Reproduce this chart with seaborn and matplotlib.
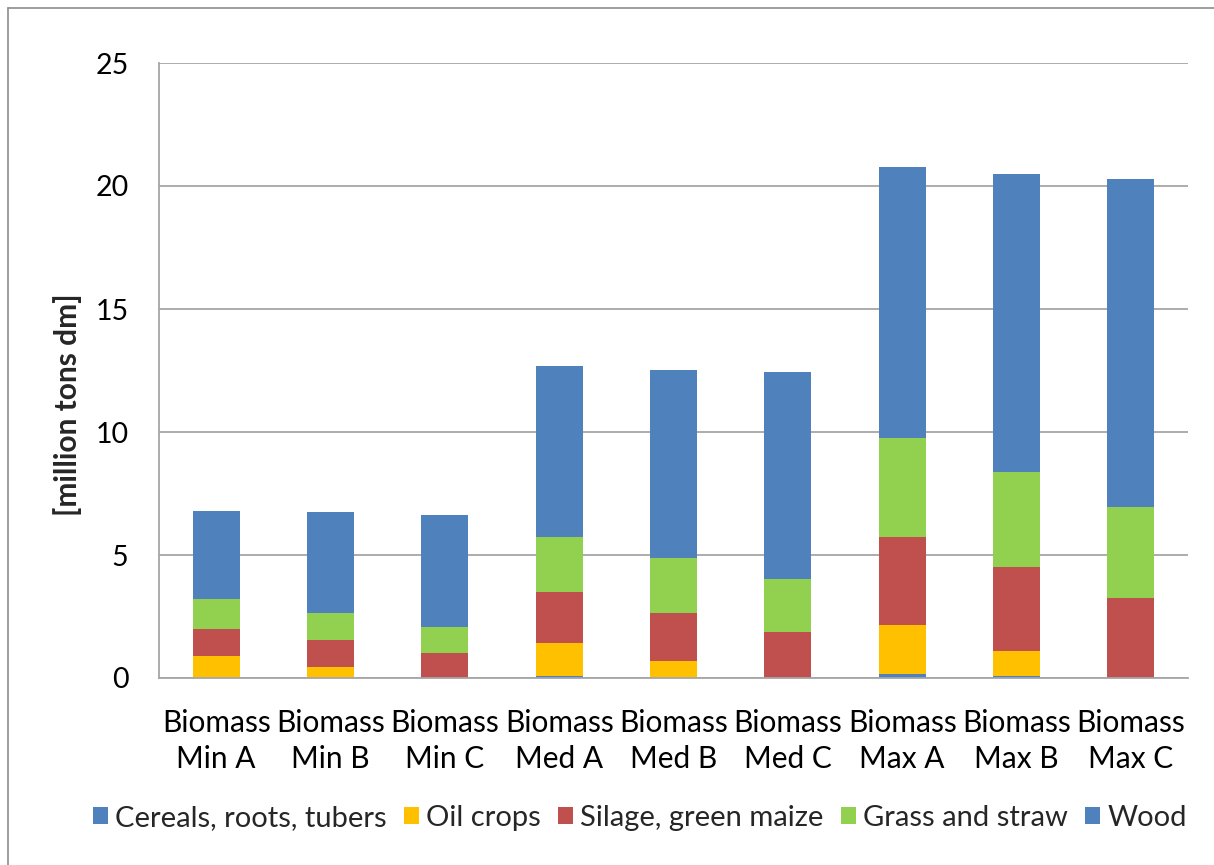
import numpy as np
import pandas as pd
import seaborn as sns
import matplotlib
matplotlib.use("Agg")
import matplotlib.pyplot as plt
from matplotlib.patches import Patch
from matplotlib.lines import Line2D

# Biomass potential per scenario, million tons dry matter
scenarios = ["Biomass\nMin A", "Biomass\nMin B", "Biomass\nMin C",
             "Biomass\nMed A", "Biomass\nMed B", "Biomass\nMed C",
             "Biomass\nMax A", "Biomass\nMax B", "Biomass\nMax C"]
cereals = [0.00, 0.00, 0.00, 0.07, 0.00, 0.00, 0.18, 0.07, 0.00]
oil_crops = [0.91, 0.45, 0.00, 1.35, 0.69, 0.00, 1.99, 1.03, 0.00]
silage = [1.08, 1.08, 1.02, 2.06, 1.95, 1.88, 3.56, 3.41, 3.27]
grass = [1.23, 1.13, 1.07, 2.26, 2.24, 2.13, 4.02, 3.85, 3.70]
wood = [3.57, 4.07, 4.54, 6.96, 7.65, 8.42, 11.01, 12.14, 13.30]

series_names = ["Cereals, roots, tubers", "Oil crops", "Silage, green maize",
                "Grass and straw", "Wood"]
series_values = [cereals, oil_crops, silage, grass, wood]
colors = ["#4F81BD", "#FFC000", "#C0504D", "#92D050", "#4F81BD"]
y_ticks = [0, 5, 10, 15, 20, 25]

sns.set_style("white")
plt.rcParams["font.family"] = ["Lato", "DejaVu Sans"]

W, H = 1214, 865
fig = plt.figure(figsize=(W / 100, H / 100), dpi=100)
ax = fig.add_axes([159 / W, 1 - 678 / H, (1188 - 159) / W, (678 - 63) / H])

# stacked bars: draw cumulative totals from the top layer down
df = pd.DataFrame({"scenario": scenarios})
cum = np.cumsum(np.array(series_values), axis=0)
for i in range(len(series_names) - 1, -1, -1):
    df["value"] = cum[i]
    sns.barplot(data=df, x="scenario", y="value", color=colors[i],
                saturation=1, width=0.41, linewidth=0, ax=ax, zorder=2)

grid_c = "#A6A6A6"
ax.set_xlim(-0.5, len(scenarios) - 0.5)
ax.set_ylim(0, 25)
ax.set_yticks(y_ticks)
ax.set_yticklabels([str(t) for t in y_ticks])
ax.yaxis.grid(True, color=grid_c, linewidth=1.3)
ax.xaxis.grid(False)
ax.set_axisbelow(True)
for side in ["top", "right"]:
    ax.spines[side].set_visible(False)
for side in ["left", "bottom"]:
    ax.spines[side].set_color(grid_c)
    ax.spines[side].set_linewidth(1.3)

ax.tick_params(axis="y", direction="out", length=10, width=1.3, color=grid_c,
               pad=12, labelsize=20.5, labelcolor="black")
ax.tick_params(axis="x", which="major", length=0, pad=22, labelsize=21.5,
               labelcolor="black")
ax.set_xticks(np.arange(-0.5, len(scenarios)), minor=True)
ax.tick_params(axis="x", which="minor", direction="out", length=10, width=1.3,
               color=grid_c)
for lbl in ax.get_xticklabels():
    lbl.set_linespacing(1.35)

ax.set_xlabel("")
ax.set_ylabel("")
fig.text(68 / W, 1 - 405 / H, "[million tons dm]", rotation=90,
         ha="center", va="center", fontsize=21.5, fontweight="bold")

handles = [Patch(facecolor=c, edgecolor="none") for c in colors]
fig.legend(handles, series_names, loc="center", ncol=5, frameon=False,
           bbox_to_anchor=(640 / W, 1 - 818 / H), fontsize=21,
           handlelength=0.5, handleheight=0.5, handletextpad=0.25,
           columnspacing=0.6)

# outer chart frame
frame_c = "#8C8C8C"
fig.add_artist(Line2D([8 / W, 1], [1 - 8 / H, 1 - 8 / H],
                      transform=fig.transFigure, color=frame_c, lw=1.2))
fig.add_artist(Line2D([8 / W, 8 / W], [0, 1 - 8 / H],
                      transform=fig.transFigure, color=frame_c, lw=1.2))

fig.savefig("out.png", dpi=100, facecolor="white")
